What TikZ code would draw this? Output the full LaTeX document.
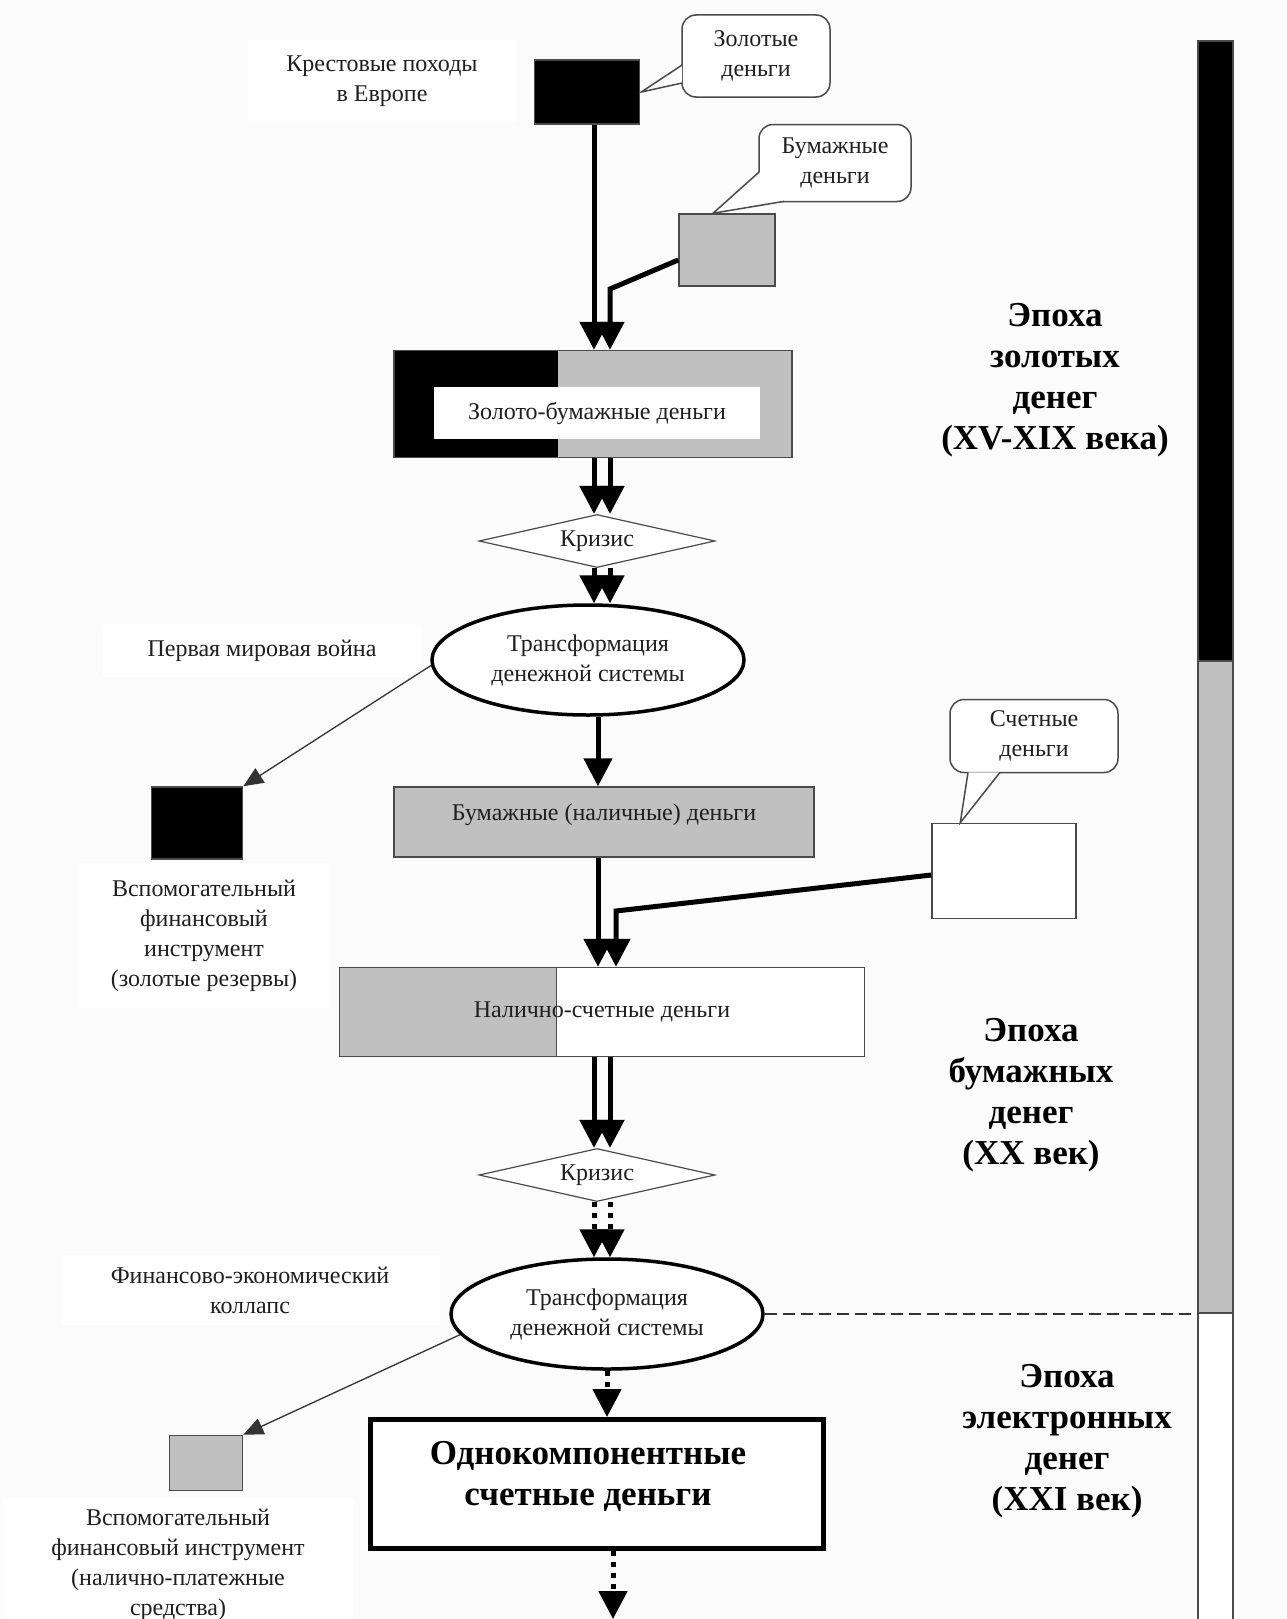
\documentclass[tikz,border=0pt]{standalone}
\usepackage{fontspec}
\setmainfont{Liberation Serif}
\usetikzlibrary{positioning,shapes.geometric,arrows.meta}
\definecolor{silver}{HTML}{C0C0C0}
\definecolor{edge}{HTML}{4A4A4A}
\definecolor{paperbg}{HTML}{FBFBFB}

\begin{document}
\begin{tikzpicture}[
      x=1pt, y=-1pt,
      every node/.style={align=center, font=\fontsize{24}{30}\selectfont, text=black!88},
      note/.style={fill=white, inner sep=0pt},
      box/.style={draw=edge, line width=1.5pt, inner sep=0pt},
      bubble/.style={draw=edge, fill=white, line width=1.5pt, rounded corners=14pt, inner sep=0pt},
      pointer/.style={draw=edge, fill=white, line width=1.5pt},
      crisis/.style={diamond, aspect=4.45, draw=edge, fill=white, line width=1.2pt, inner sep=0pt, minimum width=236pt, minimum height=53pt},
      change/.style={ellipse, draw, fill=white, line width=3.5pt, inner sep=0pt, minimum width=312pt, minimum height=110pt},
      epoch/.style={font=\fontsize{35}{41}\selectfont\bfseries, text=black},
      flow/.style={line width=5pt, line join=miter, -{Triangle[length=28pt, width=28pt]}},
      dotflow/.style={flow, dash pattern=on 5pt off 6pt},
      hint/.style={line width=1.3pt, draw=black!80, -{Triangle[length=20pt, width=17pt]}},
      divider/.style={line width=1.3pt, draw=black!80, dash pattern=on 12pt off 6pt}
    ]
      \fill[paperbg] (0,0) rectangle (1287,1619);
      \useasboundingbox (0,0) rectangle (1287,1619);

      % side remarks
      \node[note, minimum width=268pt, minimum height=81pt] (crusades) at (382,81) {Крестовые походы\\в Европе};
      \node[note, minimum width=320pt, minimum height=52pt] (war) at (262,651) {Первая мировая война};
      \node[note, minimum width=379pt, minimum height=70pt] (collapse) at (250,1290) {Финансово-экономический\\коллапс};

      % gold and paper money
      \node[box, fill=black, minimum width=105pt, minimum height=64pt] (gold) at (587,92) {};
      \node[bubble, minimum width=148pt, minimum height=82pt] (goldNote) at (756,56) {Золотые\\деньги};
      \draw[pointer] ([xshift=0.9pt,yshift=-9pt]goldNote.west) -- ([xshift=1pt]gold.east) -- ([xshift=0.9pt,yshift=-27pt]goldNote.west);
      \node[box, fill=silver, minimum width=96pt, minimum height=72pt] (paper) at (727,250) {};
      \node[bubble, minimum width=152pt, minimum height=77pt] (paperNote) at (835,163) {Бумажные\\деньги};
      \draw[pointer] ([xshift=0.9pt,yshift=-9pt]paperNote.west) -- ([xshift=-14pt]paper.north) -- ([xshift=-51pt,yshift=0.9pt]paperNote.south);

      \node[box, fill=silver, minimum width=398pt, minimum height=107pt,
        path picture={\fill[black] (path picture bounding box.south west) rectangle ([xshift=164pt]path picture bounding box.north west);}] (mixed) at (593,404) {};
      \node[fill=white, inner sep=0pt, minimum width=326pt, minimum height=52pt] (mixedName) at (597,413) {Золото-бумажные деньги};

      \node[crisis] (crisisA) at (597,541) {Кризис};
      \node[change] (shiftA) at (588,660) {Трансформация\\денежной системы};

      \node[box, fill=black, minimum width=91pt, minimum height=72pt] (reserve) at (197,823) {};
      \node[note, below=3pt of reserve, xshift=7pt, minimum width=254pt, minimum height=145pt] (reserveText) {Вспомогательный\\финансовый\\инструмент\\(золотые резервы)};

      % paper and account money
      \node[box, fill=silver, minimum width=420pt, minimum height=70pt, text depth=20pt] (cash) at (604,822) {Бумажные (наличные) деньги};
      \node[bubble, minimum width=168pt, minimum height=73pt] (accountNote) at (1034,736) {Счетные\\деньги};
      \node[box, fill=white, minimum width=144pt, minimum height=95pt] (account) at (1004,871) {};
      \draw[pointer] ([xshift=-66pt,yshift=0.9pt]accountNote.south) -- ([xshift=29pt]account.north west) -- ([xshift=-34pt,yshift=0.9pt]accountNote.south);

      \node[box, fill=white, minimum width=525pt, minimum height=89pt,
        path picture={\fill[silver] (path picture bounding box.south west) rectangle ([xshift=217pt]path picture bounding box.north west);
          \draw[edge, line width=1.5pt] ([xshift=217pt]path picture bounding box.south west) -- ([xshift=217pt]path picture bounding box.north west);}] (mixedB) at (602,1012) {Налично-счетные деньги};

      \node[crisis] (crisisB) at (597,1175) {Кризис};
      \node[change] (shiftB) at (607,1314) {Трансформация\\денежной системы};

      \node[box, fill=silver, minimum width=73pt, minimum height=55pt] (payment) at (206,1463) {};
      \node[note, below=7pt of payment, xshift=-28pt, minimum width=351pt, minimum height=132pt] (paymentText) {Вспомогательный\\финансовый инструмент\\(налично-платежные\\средства)};

      \node[box, draw=black, line width=5pt, fill=white, minimum width=453pt, minimum height=129pt] (single) at (597,1484) {};
      \node[font=\fontsize{35}{41}\selectfont\bfseries, text=black] (singleName) at ([xshift=-9pt,yshift=8pt]single.center) {Однокомпонентные\\счетные деньги};

      % time scale
      \node[box, fill=black, minimum width=35pt, minimum height=620pt] (goldEra) at (1215.5,351) {};
      \node[box, fill=silver, minimum width=35pt, minimum height=652pt] (paperEra) at (1215.5,987) {};
      \node[box, fill=white, minimum width=35pt, minimum height=320pt] (digitalEra) at (1215.5,1473) {};
      \node[epoch] (goldAge) at (1055,380) {Эпоха\\золотых\\денег\\(XV-XIX века)};
      \node[epoch] (paperAge) at (1031,1095) {Эпоха\\бумажных\\денег\\(XX век)};
      \node[epoch] (digitalAge) at (1067,1441) {Эпоха\\электронных\\денег\\(XXI век)};

      % flows
      \coordinate (laneA) at (594,0);
      \coordinate (laneB) at (610,0);
      \coordinate (laneC) at (598,0);
      \coordinate (paperBend) at (610,289);
      \coordinate (accountBend) at (616,911);
      \coordinate (beyond) at (613,1619);

      \draw[flow] (laneA |- gold.south) -- (laneA |- mixed.north);
      \draw[flow] ([yshift=-10pt]paper.west) -- (paperBend) -- (laneB |- mixed.north);
      \draw[flow] (laneA |- mixed.south) -- (laneA |- crisisA.north);
      \draw[flow] (laneB |- mixed.south) -- (laneB |- crisisA.north);
      \draw[flow] (laneA |- crisisA.south) -- (laneA |- shiftA.north);
      \draw[flow] (laneB |- crisisA.south) -- (laneB |- shiftA.north);
      \draw[flow] (laneC |- shiftA.south) -- (laneC |- cash.north);
      \draw[flow] (laneC |- cash.south) -- (laneC |- mixedB.north);
      \draw[flow] ([yshift=-4pt]account.west) -- (accountBend) -- (accountBend |- mixedB.north);
      \draw[flow] (laneA |- mixedB.south) -- (laneA |- crisisB.north);
      \draw[flow] (laneB |- mixedB.south) -- (laneB |- crisisB.north);
      \draw[dotflow] (laneA |- crisisB.south) -- (laneA |- shiftB.north);
      \draw[dotflow] (laneB |- crisisB.south) -- (laneB |- shiftB.north);
      \draw[dotflow] (shiftB.south) -- (shiftB.south |- single.north);
      \draw[dotflow] (beyond |- single.south) -- (beyond);

      \draw[hint] (shiftA.182) -- (reserve.north east);
      \draw[hint] (shiftB.188) -- (payment.north east);
      \draw[divider] (shiftB.east) -- (shiftB.east -| paperEra.west);

    \end{tikzpicture}
\end{document}
